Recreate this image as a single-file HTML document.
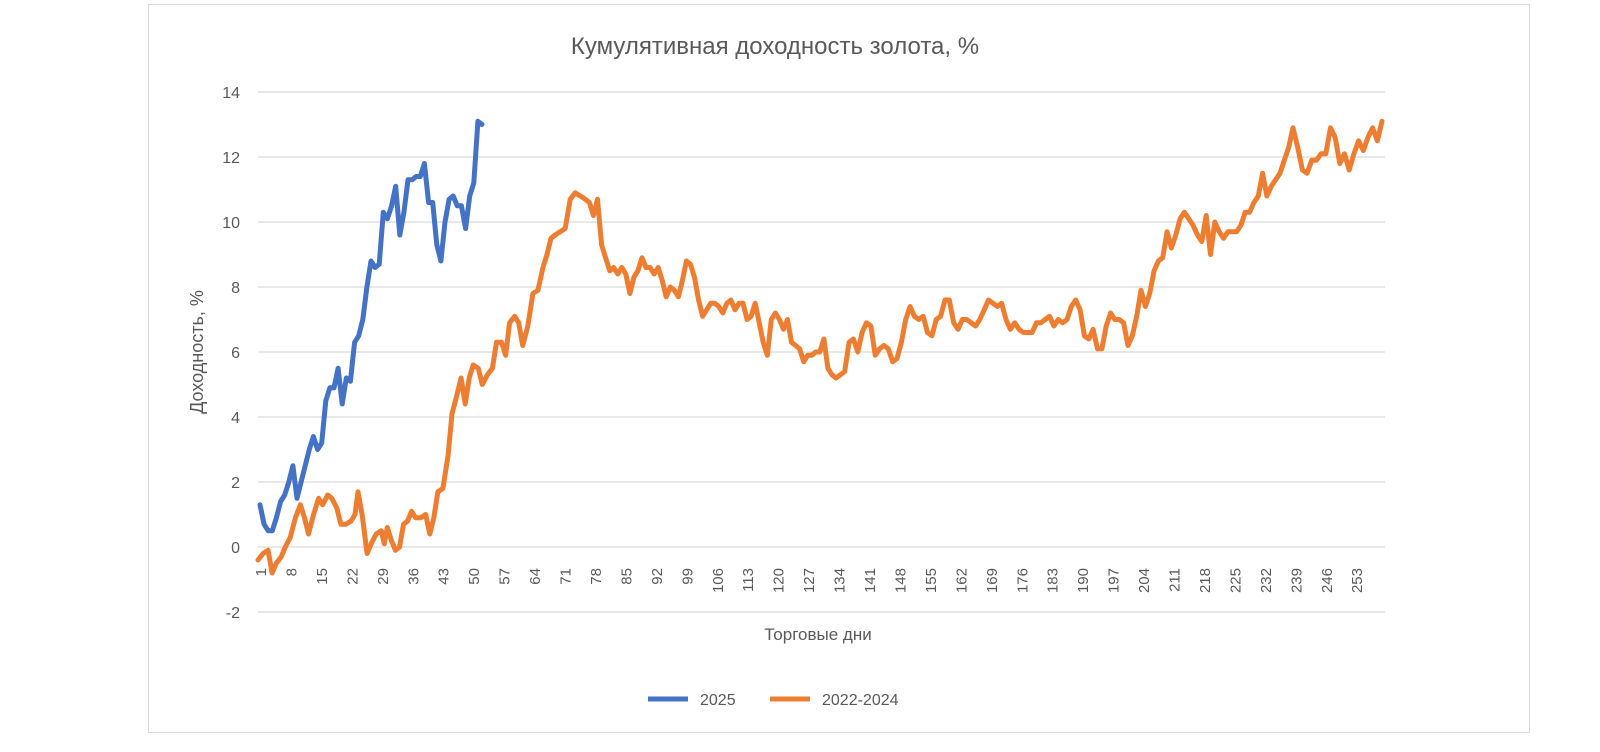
<!DOCTYPE html>
<html><head><meta charset="utf-8"><style>
body{margin:0;background:#fff;}
svg{display:block;font-family:"Liberation Sans","DejaVu Sans",sans-serif;}
</style></head><body>
<svg id="s" width="1600" height="752" xmlns="http://www.w3.org/2000/svg">
<rect x="148.5" y="4.5" width="1381" height="728" fill="#fff" stroke="#d9d9d9" stroke-width="1"/>
<text x="775" y="54" text-anchor="middle" font-size="24" fill="#595959">Кумулятивная доходность золота, %</text>
<g id="grid"></g>
<text transform="translate(203,352) rotate(-90)" text-anchor="middle" font-size="18" fill="#595959">Доходность, %</text>
<text x="818" y="640" text-anchor="middle" font-size="17" fill="#595959">Торговые дни</text>
<path id="or" fill="none" stroke="#ed7d31" stroke-width="5" stroke-linejoin="round" stroke-linecap="round"/>
<path id="bl" fill="none" stroke="#4472c4" stroke-width="5" stroke-linejoin="round" stroke-linecap="round"/>
<line x1="648" y1="699" x2="688" y2="699" stroke="#4472c4" stroke-width="5"/>
<text x="700" y="705" font-size="16" fill="#595959">2025</text>
<line x1="770" y1="699" x2="810" y2="699" stroke="#ed7d31" stroke-width="5"/>
<text x="822" y="705" font-size="16" fill="#595959">2022-2024</text>
</svg>
<script>
const NS="http://www.w3.org/2000/svg";
const Y=v=>547-32.5*v;
const g=document.getElementById('grid');
function el(t,a,txt){const e=document.createElementNS(NS,t);for(const k in a)e.setAttribute(k,a[k]);if(txt!==undefined)e.textContent=txt;g.appendChild(e);return e;}
for(let v=-2;v<=14;v+=2){
 el('line',{x1:258,x2:1385,y1:Y(v),y2:Y(v),stroke:'#d9d9d9','stroke-width':1.3});
 el('text',{x:240,y:Y(v)+6,'text-anchor':'end','font-size':16,fill:'#595959'},String(v));
}
for(let d=1;d<=253;d+=7){
 const x=260+4.35*(d-1);
 el('text',{transform:`translate(${x+6},568) rotate(-90)`,'text-anchor':'end','font-size':15,fill:'#595959'},String(d));
}
const b=[1.3,0.7,0.5,0.5,0.9,1.4,1.6,2.0,2.5,1.5,2.0,2.5,3.0,3.4,3.0,3.2,4.5,4.9,4.9,5.5,4.4,5.2,5.1,6.3,6.5,7.0,8.0,8.8,8.6,8.7,10.3,10.1,10.5,11.1,9.6,10.3,11.3,11.3,11.4,11.4,11.8,10.6,10.6,9.3,8.8,10.0,10.7,10.8,10.5,10.5,9.8,10.8,11.2,13.1,13.0];
let p='';b.forEach((v,i)=>{p+=(i?'L':'M')+(260+i*222/(b.length-1)).toFixed(1)+' '+Y(v).toFixed(1)});
document.getElementById('bl').setAttribute('d',p);
const o=[[258,-0.4],[263,-0.2],[268,-0.1],[272,-0.8],[276,-0.5],[281,-0.3],[285,0],[290,0.3],[295,0.9],[300,1.3],[304,0.9],[308,0.4],[313,1.0],[318,1.5],[322,1.3],[327,1.6],[331,1.5],[336,1.2],[340,0.7],[345,0.7],[350,0.8],[354,1.0],[357,1.7],[361,1.0],[366,-0.2],[370,0.1],[375,0.4],[380,0.5],[383,0.1],[386,0.6],[390,0.2],[394,-0.1],[398,0.0],[402,0.7],[406,0.8],[410,1.1],[414,0.9],[419,0.9],[424,1.0],[428,0.4],[432,0.9],[436,1.7],[441,1.8],[446,2.8],[450,4.1],[455,4.7],[459,5.2],[463,4.4],[467,5.2],[471,5.6],[476,5.5],[480,5.0],[485,5.3],[490,5.5],[494,6.3],[499,6.3],[503,5.9],[507,6.9],[512,7.1],[516,6.9],[520,6.2],[525,6.8],[530,7.8],[535,7.9],[540,8.6],[544,9.0],[548,9.5],[552,9.6],[557,9.7],[562,9.8],[567,10.7],[572,10.9],[577,10.8],[582,10.7],[586,10.6],[590,10.2],[594,10.7],[598,9.3],[602,8.9],[606,8.5],[610,8.6],[614,8.4],[618,8.6],[622,8.4],[626,7.8],[630,8.3],[634,8.5],[638,8.9],[642,8.6],[646,8.6],[650,8.4],[654,8.6],[658,8.2],[662,7.7],[666,8.0],[670,7.9],[674,7.7],[678,8.2],[682,8.8],[686,8.7],[690,8.3],[694,7.6],[698,7.1],[702,7.3],[706,7.5],[710,7.5],[714,7.4],[718,7.2],[722,7.5],[726,7.6],[730,7.3],[734,7.5],[738,7.5],[742,7.0],[746,7.1],[750,7.5],[754,6.9],[758,6.3],[762,5.9],[766,7.0],[770,7.2],[774,7.0],[778,6.7],[782,7.0],[786,6.3],[790,6.2],[794,6.1],[798,5.7],[802,5.9],[806,5.9],[810,6.0],[814,6.0],[818,6.4],[822,5.5],[826,5.3],[830,5.2],[834,5.3],[838,5.4],[842,6.3],[846,6.4],[850,6.0],[854,6.6],[858,6.9],[862,6.8],[866,5.9],[870,6.1],[874,6.2],[878,6.1],[882,5.7],[886,5.8],[890,6.3],[894,7.0],[898,7.4],[902,7.1],[906,7.0],[910,7.1],[914,6.6],[918,6.5],[922,7.0],[926,7.1],[930,7.6],[934,7.6],[938,6.9],[942,6.7],[946,7.0],[950,7.0],[954,6.9],[958,6.8],[962,7.0],[966,7.3],[970,7.6],[974,7.5],[978,7.4],[982,7.5],[986,7.0],[990,6.7],[994,6.9],[998,6.7],[1002,6.6],[1006,6.6],[1010,6.6],[1014,6.9],[1018,6.9],[1022,7.0],[1026,7.1],[1030,6.8],[1034,7.0],[1038,6.9],[1042,7.0],[1046,7.4],[1050,7.6],[1054,7.3],[1058,6.5],[1062,6.4],[1066,6.7],[1070,6.1],[1074,6.1],[1078,6.8],[1082,7.2],[1086,7.0],[1090,7.0],[1094,6.9],[1098,6.2],[1102,6.5],[1106,7.1],[1110,7.9],[1114,7.4],[1118,7.8],[1122,8.5],[1126,8.8],[1130,8.9],[1134,9.7],[1138,9.2],[1142,9.6],[1146,10.1],[1150,10.3],[1154,10.1],[1158,9.9],[1162,9.6],[1166,9.4],[1170,10.2],[1174,9.0],[1178,10.0],[1182,9.7],[1186,9.5],[1190,9.7],[1194,9.7],[1198,9.7],[1202,9.9],[1206,10.3],[1210,10.3],[1214,10.6],[1218,10.8],[1222,11.5],[1226,10.8],[1230,11.1],[1234,11.3],[1238,11.5],[1242,11.9],[1246,12.3],[1250,12.9],[1254,12.3],[1258,11.6],[1262,11.5],[1266,11.9],[1270,11.9],[1274,12.1],[1278,12.1],[1282,12.9],[1286,12.6],[1290,11.8],[1294,12.1],[1298,11.6],[1302,12.1],[1306,12.5],[1310,12.2],[1314,12.6],[1318,12.9],[1322,12.5],[1326,13.1]];
const src=[258,830,1098,1250,1326],dst=[258,836,1128,1293,1382];
function mx(x){for(let i=0;i<src.length-1;i++){if(x<=src[i+1])return dst[i]+(x-src[i])*(dst[i+1]-dst[i])/(src[i+1]-src[i]);}return x;}
p='';o.forEach((q,i)=>{p+=(i?'L':'M')+mx(q[0]).toFixed(1)+' '+Y(q[1]).toFixed(1)});
document.getElementById('or').setAttribute('d',p);
</script>
</body></html>
